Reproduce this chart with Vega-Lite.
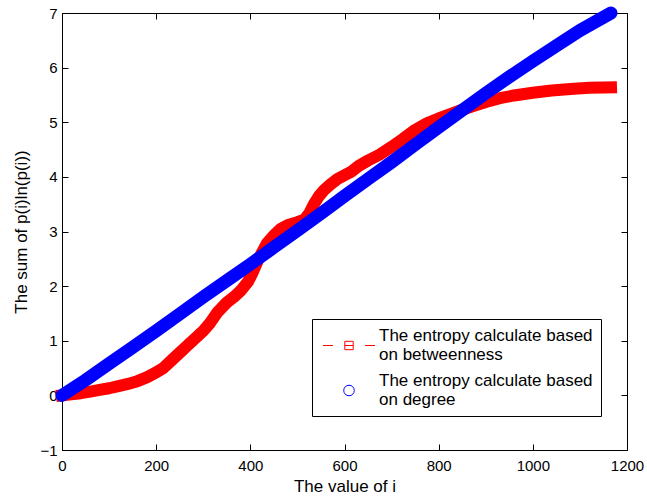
{
  "$schema": "https://vega.github.io/schema/vega-lite/v6.json",
  "width": 565,
  "height": 437,
  "autosize": {"type": "none"},
  "padding": {"left": 62, "top": 13, "right": 20, "bottom": 48},
  "background": "white",
  "config": {
    "font": "Liberation Sans",
    "view": {"stroke": "black", "strokeWidth": 1},
    "axis": {
      "grid": false,
      "domainColor": "black",
      "tickColor": "black",
      "labelColor": "black",
      "titleColor": "black",
      "labelFont": "Liberation Sans",
      "labelFontSize": 15,
      "titleFont": "Liberation Sans",
      "titleFontSize": 17,
      "titleFontWeight": "normal",
      "tickSize": -6,
      "domainWidth": 1,
      "tickWidth": 1,
      "format": "d"
    }
  },
  "datasets": {
    "bet": [
      {"series": "betweenness", "i": 0, "v": 0},
      {"series": "betweenness", "i": 20, "v": 0.02},
      {"series": "betweenness", "i": 40, "v": 0.04},
      {"series": "betweenness", "i": 60, "v": 0.07},
      {"series": "betweenness", "i": 80, "v": 0.1},
      {"series": "betweenness", "i": 100, "v": 0.13},
      {"series": "betweenness", "i": 120, "v": 0.17},
      {"series": "betweenness", "i": 140, "v": 0.21},
      {"series": "betweenness", "i": 160, "v": 0.26},
      {"series": "betweenness", "i": 180, "v": 0.33},
      {"series": "betweenness", "i": 200, "v": 0.42},
      {"series": "betweenness", "i": 215, "v": 0.5},
      {"series": "betweenness", "i": 230, "v": 0.62},
      {"series": "betweenness", "i": 250, "v": 0.78},
      {"series": "betweenness", "i": 265, "v": 0.9},
      {"series": "betweenness", "i": 280, "v": 1.02},
      {"series": "betweenness", "i": 300, "v": 1.18},
      {"series": "betweenness", "i": 315, "v": 1.33},
      {"series": "betweenness", "i": 330, "v": 1.52},
      {"series": "betweenness", "i": 350, "v": 1.7},
      {"series": "betweenness", "i": 365, "v": 1.8},
      {"series": "betweenness", "i": 380, "v": 1.92},
      {"series": "betweenness", "i": 395, "v": 2.08},
      {"series": "betweenness", "i": 405, "v": 2.25},
      {"series": "betweenness", "i": 415, "v": 2.45},
      {"series": "betweenness", "i": 425, "v": 2.62},
      {"series": "betweenness", "i": 435, "v": 2.78},
      {"series": "betweenness", "i": 450, "v": 2.93},
      {"series": "betweenness", "i": 465, "v": 3.05},
      {"series": "betweenness", "i": 480, "v": 3.12},
      {"series": "betweenness", "i": 500, "v": 3.17},
      {"series": "betweenness", "i": 515, "v": 3.22},
      {"series": "betweenness", "i": 525, "v": 3.33},
      {"series": "betweenness", "i": 535, "v": 3.5},
      {"series": "betweenness", "i": 545, "v": 3.64},
      {"series": "betweenness", "i": 558, "v": 3.77},
      {"series": "betweenness", "i": 570, "v": 3.86},
      {"series": "betweenness", "i": 585, "v": 3.96},
      {"series": "betweenness", "i": 600, "v": 4.03},
      {"series": "betweenness", "i": 615, "v": 4.1},
      {"series": "betweenness", "i": 630, "v": 4.2},
      {"series": "betweenness", "i": 650, "v": 4.3},
      {"series": "betweenness", "i": 675, "v": 4.41},
      {"series": "betweenness", "i": 700, "v": 4.55},
      {"series": "betweenness", "i": 725, "v": 4.7},
      {"series": "betweenness", "i": 750, "v": 4.86},
      {"series": "betweenness", "i": 775, "v": 4.98},
      {"series": "betweenness", "i": 800, "v": 5.07},
      {"series": "betweenness", "i": 825, "v": 5.15},
      {"series": "betweenness", "i": 850, "v": 5.23},
      {"series": "betweenness", "i": 875, "v": 5.3},
      {"series": "betweenness", "i": 900, "v": 5.37},
      {"series": "betweenness", "i": 930, "v": 5.44},
      {"series": "betweenness", "i": 960, "v": 5.49},
      {"series": "betweenness", "i": 1000, "v": 5.54},
      {"series": "betweenness", "i": 1040, "v": 5.58},
      {"series": "betweenness", "i": 1080, "v": 5.61},
      {"series": "betweenness", "i": 1120, "v": 5.63},
      {"series": "betweenness", "i": 1166, "v": 5.64}
    ],
    "deg": [
      {"series": "degree", "i": 0, "v": 0},
      {"series": "degree", "i": 50, "v": 0.28},
      {"series": "degree", "i": 100, "v": 0.58},
      {"series": "degree", "i": 150, "v": 0.88},
      {"series": "degree", "i": 200, "v": 1.18},
      {"series": "degree", "i": 250, "v": 1.49},
      {"series": "degree", "i": 300, "v": 1.8},
      {"series": "degree", "i": 350, "v": 2.1},
      {"series": "degree", "i": 400, "v": 2.4},
      {"series": "degree", "i": 450, "v": 2.71},
      {"series": "degree", "i": 500, "v": 3.02},
      {"series": "degree", "i": 550, "v": 3.33},
      {"series": "degree", "i": 600, "v": 3.65},
      {"series": "degree", "i": 650, "v": 3.96},
      {"series": "degree", "i": 700, "v": 4.27},
      {"series": "degree", "i": 750, "v": 4.59},
      {"series": "degree", "i": 800, "v": 4.91},
      {"series": "degree", "i": 850, "v": 5.22},
      {"series": "degree", "i": 900, "v": 5.53},
      {"series": "degree", "i": 950, "v": 5.83},
      {"series": "degree", "i": 1000, "v": 6.12},
      {"series": "degree", "i": 1050, "v": 6.4},
      {"series": "degree", "i": 1100, "v": 6.68},
      {"series": "degree", "i": 1166, "v": 7.0}
    ]
  },
  "layer": [
    {
      "data": {"name": "bet"},
      "mark": {"type": "line", "strokeWidth": 12, "strokeCap": "square", "strokeJoin": "round"},
      "encoding": {
        "x": {
          "field": "i", "type": "quantitative",
          "scale": {"domain": [0, 1200], "nice": false},
          "axis": {"orient": "bottom", "title": "The value of i", "values": [0, 200, 400, 600, 800, 1000, 1200], "labelPadding": 14, "titlePadding": 5, "labelFlush": false}
        },
        "y": {
          "field": "v", "type": "quantitative",
          "scale": {"domain": [-1, 7], "nice": false, "zero": false},
          "axis": {"orient": "left", "title": "The sum of p(i)ln(p(i))", "values": [-1, 0, 1, 2, 3, 4, 5, 6, 7], "labelPadding": 11, "titlePadding": 9, "labelFlush": false}
        },
        "color": {
          "field": "series", "type": "nominal",
          "scale": {"domain": ["betweenness", "degree"], "range": ["#ff0000", "#0000ff"]},
          "legend": {
            "orient": "none",
            "legendX": 250,
            "legendY": 306,
            "title": null,
            "padding": 7.5,
            "strokeColor": "black",
            "fillColor": "white",
            "symbolSize": 1332,
            "symbolOffset": 10.5,
            "symbolStrokeWidth": 1,
            "symbolFillColor": "transparent",
            "labelFont": "Liberation Sans",
            "labelFontSize": 17,
            "labelColor": "black",
            "labelOffset": 11,
            "rowPadding": 8,
            "labelLimit": 400,
            "labelExpr": "datum.value == 'betweenness' ? ['The entropy calculate based', 'on betweenness'] : ['The entropy calculate based', 'on degree']",
            "encode": {
              "symbols": {
                "update": {
                  "shape": {"signal": "datum.value == 'betweenness' ? 'M-1.425,0H-0.88M0.88,0H1.425M-0.23,-0.23H0.23V0.23H-0.23ZM-0.23,0H0.23' : 'M-0.29,0A0.29,0.29,0,1,1,0.29,0A0.29,0.29,0,1,1,-0.29,0Z'"},
                  "strokeWidth": {"value": 1},
                  "fill": {"value": "transparent"},
                  "fillOpacity": {"value": 0},
                  "opacity": {"value": 1}
                }
              },
              "labels": {"update": {"lineHeight": {"value": 19.5}, "dy": {"value": -9.75}}}
            }
          }
        }
      }
    },
    {
      "data": {"name": "deg"},
      "mark": {"type": "line", "strokeWidth": 13, "strokeCap": "round", "strokeJoin": "round"},
      "encoding": {
        "x": {
          "field": "i", "type": "quantitative",
          "scale": {"domain": [0, 1200], "nice": false},
          "axis": {"orient": "top", "title": null, "labels": false, "values": [0, 200, 400, 600, 800, 1000, 1200]}
        },
        "y": {
          "field": "v", "type": "quantitative",
          "scale": {"domain": [-1, 7], "nice": false, "zero": false},
          "axis": {"orient": "right", "title": null, "labels": false, "values": [-1, 0, 1, 2, 3, 4, 5, 6, 7]}
        },
        "color": {
          "field": "series", "type": "nominal",
          "scale": {"domain": ["betweenness", "degree"], "range": ["#ff0000", "#0000ff"]}
        }
      }
    }
  ],
  "resolve": {"axis": {"x": "independent", "y": "independent"}}
}
